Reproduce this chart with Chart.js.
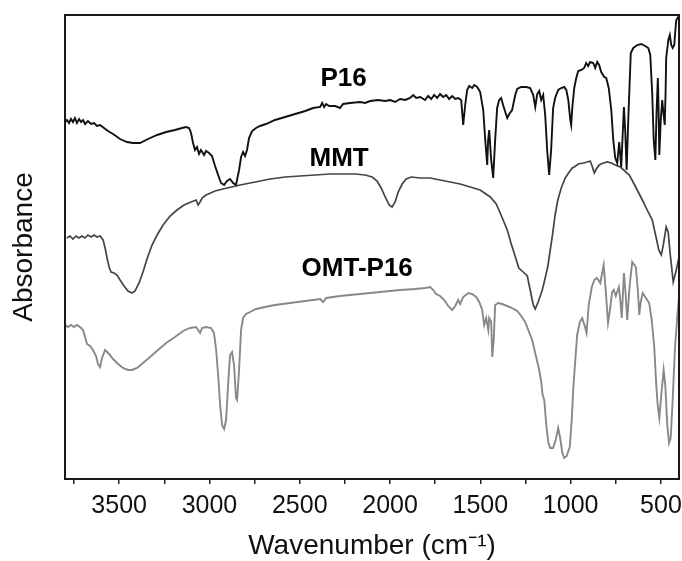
<!DOCTYPE html>
<html>
<head>
<meta charset="utf-8">
<script src="https://cdn.jsdelivr.net/npm/chart.js@4.4.0/dist/chart.umd.min.js"></script>
<style>
  html, body { margin: 0; padding: 0; background: #fff; }
</style>
</head>
<body>
<canvas id="myChart" width="682" height="561"></canvas>
<script>
// FTIR spectra, wavenumber (cm-1) vs absorbance (arbitrary offset units)
const p16Wn = [3800,3789,3778,3767,3756,3745,3734,3722,3711,3700,3689,3673,3656,3639,3623,3606,3584,3562,3534,3495,3457,3423,3385,3340,3290,3240,3191,3152,3130,3113,3102,3091,3080,3069,3058,3047,3030,3019,3002,2986,2969,2952,2936,2919,2903,2886,2869,2853,2836,2825,2814,2803,2792,2781,2764,2742,2720,2687,2637,2581,2526,2470,2426,2387,2376,2365,2354,2337,2304,2277,2260,2221,2166,2138,2110,2066,2027,1999,1972,1944,1916,1889,1872,1855,1833,1806,1789,1772,1756,1739,1723,1706,1689,1673,1656,1639,1623,1606,1595,1584,1573,1562,1545,1534,1517,1501,1484,1473,1462,1457,1451,1440,1429,1418,1407,1396,1385,1374,1362,1351,1340,1324,1307,1296,1274,1246,1224,1207,1196,1185,1174,1163,1152,1141,1130,1119,1108,1097,1086,1069,1052,1036,1024,1013,1002,997,991,980,969,958,941,925,914,903,892,875,864,853,842,831,814,803,789,775,764,753,742,731,720,712,705,698,690,681,667,653,631,609,587,570,559,548,540,531,524,517,513,509,501,493,485,479,474,471,459,451,443,435,426,420,415,404,400];
const p16Abs = [1.785,1.795,1.78,1.80,1.785,1.805,1.78,1.80,1.785,1.795,1.775,1.79,1.775,1.78,1.765,1.77,1.755,1.74,1.725,1.70,1.685,1.68,1.68,1.70,1.72,1.735,1.745,1.755,1.76,1.755,1.73,1.68,1.645,1.66,1.625,1.645,1.62,1.64,1.63,1.615,1.565,1.52,1.48,1.47,1.49,1.50,1.48,1.47,1.545,1.61,1.635,1.615,1.645,1.705,1.74,1.755,1.765,1.775,1.795,1.81,1.825,1.84,1.855,1.86,1.88,1.86,1.875,1.865,1.865,1.855,1.875,1.88,1.885,1.88,1.89,1.895,1.89,1.895,1.885,1.90,1.895,1.905,1.92,1.905,1.91,1.895,1.915,1.90,1.92,1.905,1.925,1.91,1.92,1.90,1.915,1.90,1.905,1.895,1.77,1.87,1.945,1.965,1.955,1.97,1.96,1.935,1.845,1.695,1.57,1.695,1.745,1.595,1.505,1.695,1.855,1.895,1.905,1.87,1.835,1.805,1.825,1.845,1.92,1.95,1.96,1.96,1.955,1.92,1.86,1.925,1.94,1.895,1.92,1.82,1.645,1.52,1.645,1.855,1.905,1.945,1.955,1.96,1.945,1.895,1.795,1.77,1.855,1.955,2.005,2.04,2.045,2.055,2.08,2.065,2.085,2.08,2.055,2.085,2.07,2.035,2.01,2.005,1.955,1.845,1.695,1.605,1.58,1.685,1.56,1.72,1.86,1.745,1.545,1.795,2.13,2.155,2.17,2.175,2.165,2.155,2.12,1.92,1.695,1.595,1.845,2.005,1.845,1.62,1.795,1.895,1.82,1.77,1.945,2.105,2.195,2.22,2.17,2.155,2.17,2.245,2.295,2.31,2.32];

const mmtWn = [3790,3772,3756,3739,3722,3706,3689,3673,3656,3639,3623,3606,3589,3578,3567,3556,3545,3529,3512,3495,3473,3451,3429,3412,3390,3368,3346,3318,3290,3257,3218,3180,3141,3102,3074,3063,3052,3041,3019,2969,2903,2830,2747,2664,2581,2498,2415,2332,2249,2193,2138,2099,2072,2049,2027,2005,1989,1972,1955,1933,1911,1883,1833,1778,1723,1667,1612,1556,1501,1445,1412,1390,1351,1329,1313,1287,1263,1240,1224,1207,1196,1180,1157,1141,1127,1113,1099,1086,1071,1052,1030,1008,991,980,958,930,908,892,881,869,858,842,819,797,775,753,725,675,637,603,576,548,526,512,498,487,471,460,448,432,415,400];
const mmtAbs = [1.205,1.215,1.20,1.215,1.205,1.215,1.205,1.22,1.21,1.22,1.21,1.215,1.195,1.155,1.105,1.06,1.035,1.03,1.02,0.995,0.965,0.94,0.93,0.94,0.98,1.035,1.10,1.17,1.22,1.27,1.315,1.345,1.37,1.385,1.395,1.37,1.385,1.405,1.42,1.44,1.455,1.47,1.485,1.50,1.51,1.515,1.52,1.525,1.525,1.525,1.52,1.51,1.49,1.455,1.41,1.37,1.36,1.385,1.435,1.475,1.50,1.51,1.505,1.505,1.495,1.485,1.475,1.46,1.445,1.41,1.375,1.33,1.245,1.175,1.13,1.055,1.035,1.015,0.945,0.87,0.85,0.885,0.945,1.005,1.06,1.145,1.23,1.32,1.395,1.455,1.505,1.535,1.555,1.56,1.575,1.58,1.585,1.59,1.565,1.53,1.55,1.57,1.58,1.585,1.58,1.57,1.56,1.52,1.455,1.395,1.345,1.295,1.205,1.145,1.12,1.17,1.26,1.235,1.12,0.985,1.045,1.11];

const omtWn = [3800,3783,3767,3750,3734,3717,3700,3689,3678,3661,3645,3628,3617,3606,3595,3578,3556,3534,3506,3479,3451,3429,3401,3368,3329,3285,3240,3191,3146,3108,3074,3063,3052,3041,3019,2991,2975,2963,2952,2941,2930,2919,2908,2897,2886,2875,2864,2853,2847,2836,2825,2814,2797,2775,2742,2692,2637,2554,2470,2387,2371,2354,2277,2166,2055,1944,1861,1806,1778,1761,1745,1723,1700,1678,1656,1639,1623,1612,1595,1567,1545,1523,1506,1490,1479,1468,1456,1451,1440,1434,1426,1418,1401,1379,1351,1324,1296,1274,1252,1213,1191,1174,1163,1155,1146,1135,1124,1113,1097,1083,1069,1058,1047,1036,1022,1005,994,986,977,964,949,936,922,912,900,883,869,855,836,817,806,793,781,770,761,750,733,725,717,705,695,687,673,659,639,628,620,612,601,587,565,551,537,526,518,509,498,485,476,465,455,446,435,423,409,400];
const omtAbs = [0.77,0.76,0.77,0.76,0.77,0.76,0.745,0.71,0.675,0.665,0.645,0.615,0.575,0.56,0.605,0.645,0.625,0.60,0.575,0.555,0.545,0.545,0.555,0.58,0.61,0.645,0.68,0.71,0.74,0.755,0.76,0.745,0.73,0.755,0.76,0.755,0.73,0.645,0.52,0.37,0.27,0.25,0.295,0.47,0.62,0.635,0.57,0.405,0.395,0.545,0.745,0.805,0.825,0.835,0.85,0.86,0.87,0.88,0.89,0.90,0.885,0.905,0.915,0.925,0.935,0.945,0.95,0.955,0.96,0.945,0.925,0.915,0.895,0.865,0.845,0.865,0.895,0.875,0.91,0.93,0.925,0.91,0.885,0.845,0.77,0.805,0.745,0.805,0.785,0.61,0.695,0.87,0.88,0.875,0.865,0.855,0.84,0.815,0.785,0.695,0.61,0.545,0.485,0.42,0.395,0.27,0.185,0.155,0.155,0.195,0.255,0.205,0.135,0.105,0.115,0.16,0.295,0.445,0.56,0.72,0.785,0.805,0.765,0.73,0.87,0.96,0.995,1.005,0.98,1.07,0.945,0.78,0.855,0.935,0.945,0.915,0.96,0.895,0.805,1.03,0.92,0.795,0.97,1.085,1.06,0.945,0.82,0.885,0.93,0.91,0.88,0.795,0.66,0.47,0.37,0.305,0.42,0.545,0.47,0.27,0.18,0.205,0.395,0.645,0.82,0.91];

// x axis tick marks (labels only on multiples of 500)
const xTickValues = [500,750,1000,1250,1500,1750,2000,2250,2500,2750,3000,3250,3500,3750];

// sample names written next to each trace (wavenumber, absorbance)
const seriesNames = ['P16', 'MMT', 'OMT-P16'];
const nameWn = [2257, 2282, 2182];
const nameAbs = [2.0, 1.6, 1.05];

const fontFamily = '"Liberation Sans", Arial, Helvetica, sans-serif';

function toPoints(wn, abs) {
    return wn.map((w, i) => ({ x: w, y: abs[i] }));
}

// frame around the plot area
const framePlugin = {
    id: 'frame',
    afterDatasetsDraw(chart) {
        const { ctx, chartArea: a } = chart;
        ctx.save();
        ctx.strokeStyle = '#1a1a1a';
        ctx.lineWidth = 2;
        ctx.strokeRect(a.left, a.top, a.right - a.left, a.bottom - a.top);
        ctx.restore();
    }
};

const namesPlugin = {
    id: 'names',
    afterDatasetsDraw(chart) {
        const { ctx, scales } = chart;
        ctx.save();
        ctx.font = 'bold 26px ' + fontFamily;
        ctx.fillStyle = '#000';
        ctx.textAlign = 'center';
        ctx.textBaseline = 'middle';
        seriesNames.forEach((name, i) => {
            ctx.fillText(name, scales.x.getPixelForValue(nameWn[i]), scales.y.getPixelForValue(nameAbs[i]));
        });
        ctx.restore();
    }
};

const ctx = document.getElementById('myChart').getContext('2d');
new Chart(ctx, {
    type: 'line',
    data: {
        datasets: [
            { label: 'P16', data: toPoints(p16Wn, p16Abs), borderColor: '#111', borderWidth: 1.9 },
            { label: 'MMT', data: toPoints(mmtWn, mmtAbs), borderColor: '#444', borderWidth: 1.7 },
            { label: 'OMT-P16', data: toPoints(omtWn, omtAbs), borderColor: '#888', borderWidth: 1.9 }
        ]
    },
    options: {
        responsive: false,
        animation: false,
        devicePixelRatio: 1,
        elements: { point: { radius: 0 }, line: { tension: 0 } },
        layout: { padding: { left: 0, top: 15, right: 3, bottom: 0 } },
        plugins: { legend: { display: false }, tooltip: { enabled: false } },
        scales: {
            x: {
                type: 'linear',
                reverse: true,
                min: 400,
                max: 3800,
                afterBuildTicks: axis => {
                    axis.ticks = xTickValues.map(v => ({ value: v }));
                },
                ticks: {
                    autoSkip: false,
                    maxRotation: 0,
                    padding: 9.5,
                    color: '#111',
                    font: { family: fontFamily, size: 25, lineHeight: 1.0 },
                    callback: v => (v % 500 === 0 ? String(v) : '')
                },
                grid: { drawOnChartArea: false, drawTicks: true, tickLength: 5, color: '#222', lineWidth: 1.5 },
                border: { display: false },
                title: {
                    display: true,
                    text: 'Wavenumber (cm\u207B\u00B9)',
                    color: '#111',
                    font: { family: fontFamily, size: 28, lineHeight: 1.0 },
                    padding: { top: 4, bottom: 1 }
                }
            },
            y: {
                min: 0,
                max: 2.32,
                ticks: { display: false },
                grid: { display: false, drawTicks: false },
                border: { display: false },
                title: {
                    display: true,
                    text: 'Absorbance',
                    color: '#111',
                    font: { family: fontFamily, size: 28, lineHeight: 1.2 },
                    padding: { top: 7.2, bottom: 24.2 }
                }
            }
        }
    },
    plugins: [framePlugin, namesPlugin]
});
</script>
</body>
</html>
